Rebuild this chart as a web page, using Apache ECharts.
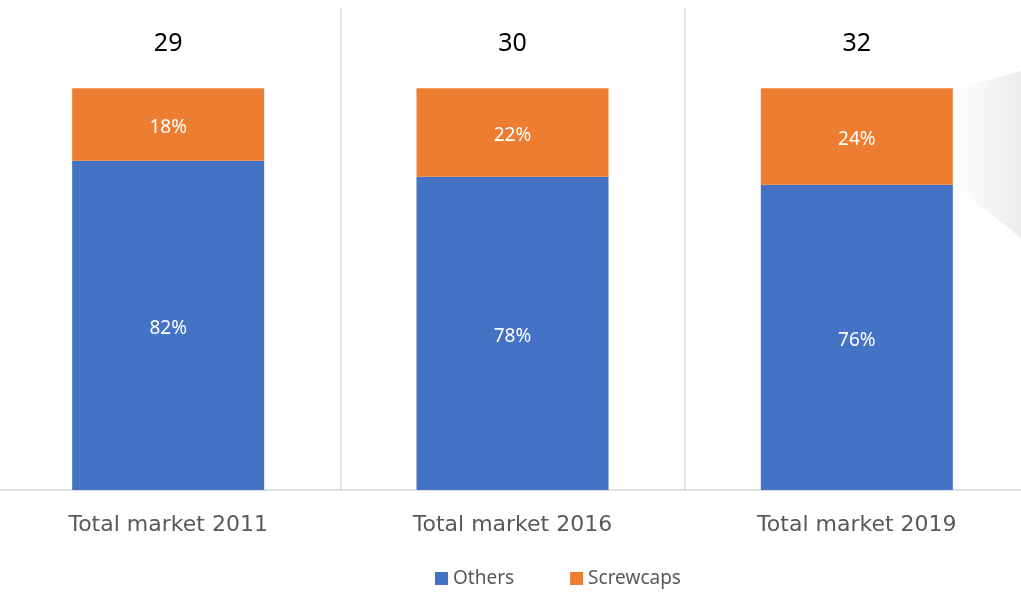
<!DOCTYPE html>
<html>
<head>
<meta charset="utf-8">
<script src="https://cdn.jsdelivr.net/npm/echarts@6/dist/echarts.min.js"></script>
<style>
    html, body { margin: 0; padding: 0; background: #fff; }
    #main { width: 1021px; height: 593px; }
</style>
</head>
<body>
<div id="main"></div>
<script>
    // data
    let categories = ['Total market 2011', 'Total market 2016', 'Total market 2019'];
    let others = [82, 78, 76];        // % share
    let screwcaps = [18, 22, 24];     // % share
    let totals = [29, 30, 32];        // total market size

    let myChart = echarts.init(document.getElementById('main'));

    let option = {
        animation: false,
        color: ['#4472c4', '#ed7d31'],
        grid: {
            left: -4,
            right: -8,
            top: 8,
            bottom: 103,
            outerBoundsMode: 'none'
        },
        legend: {
            bottom: 0,
            left: 430,
            itemWidth: 13,
            itemHeight: 13,
            itemGap: 56,
            icon: 'rect',
            textStyle: {
                color: '#595959',
                fontSize: 19,
                fontFamily: 'Noto Sans'
            },
            data: ['Others', 'Screwcaps']
        },
        xAxis: {
            type: 'category',
            data: categories,
            axisTick: { show: false },
            axisLine: {
                lineStyle: { color: '#d9d9d9', width: 1.5 }
            },
            splitLine: {
                show: true,
                lineStyle: { color: '#d9d9d9', width: 1.5 }
            },
            axisLabel: {
                color: '#595959',
                fontSize: 22,
                fontFamily: 'DejaVu Sans',
                margin: 24
            }
        },
        yAxis: {
            type: 'value',
            min: 0,
            max: 120,
            show: false
        },
        graphic: [{
            // grey decorative wedge at the right edge
            type: 'polygon',
            silent: true,
            shape: {
                points: [[954, 89], [1021, 71], [1021, 238], [954, 185]]
            },
            style: {
                fill: {
                    type: 'linear',
                    x: 0, y: 0, x2: 1, y2: 0,
                    colorStops: [
                        { offset: 0, color: '#ffffff' },
                        { offset: 1, color: '#ececec' }
                    ]
                }
            }
        }],
        series: [{
            name: 'Others',
            type: 'bar',
            stack: 'total',
            barWidth: 192,
            data: others,
            label: {
                show: true,
                position: 'inside',
                offset: [0, 3],
                color: '#fff',
                fontSize: 19,
                fontFamily: 'Noto Sans',
                formatter: p => p.value + '%'
            }
        }, {
            name: 'Screwcaps',
            type: 'bar',
            stack: 'total',
            barWidth: 192,
            data: screwcaps,
            label: {
                show: true,
                position: 'inside',
                offset: [0, 3],
                color: '#fff',
                fontSize: 19,
                fontFamily: 'Noto Sans',
                formatter: p => p.value + '%'
            }
        }, {
            // invisible carrier for the totals above each bar
            name: 'total',
            type: 'bar',
            stack: 'total',
            barWidth: 192,
            data: [0, 0, 0],
            itemStyle: { color: 'transparent' },
            label: {
                show: true,
                position: 'top',
                distance: 32,
                color: '#000',
                fontSize: 25,
                fontFamily: 'Noto Sans',
                formatter: p => totals[p.dataIndex]
            }
        }]
    };

    myChart.setOption(option);
</script>
</body>
</html>
